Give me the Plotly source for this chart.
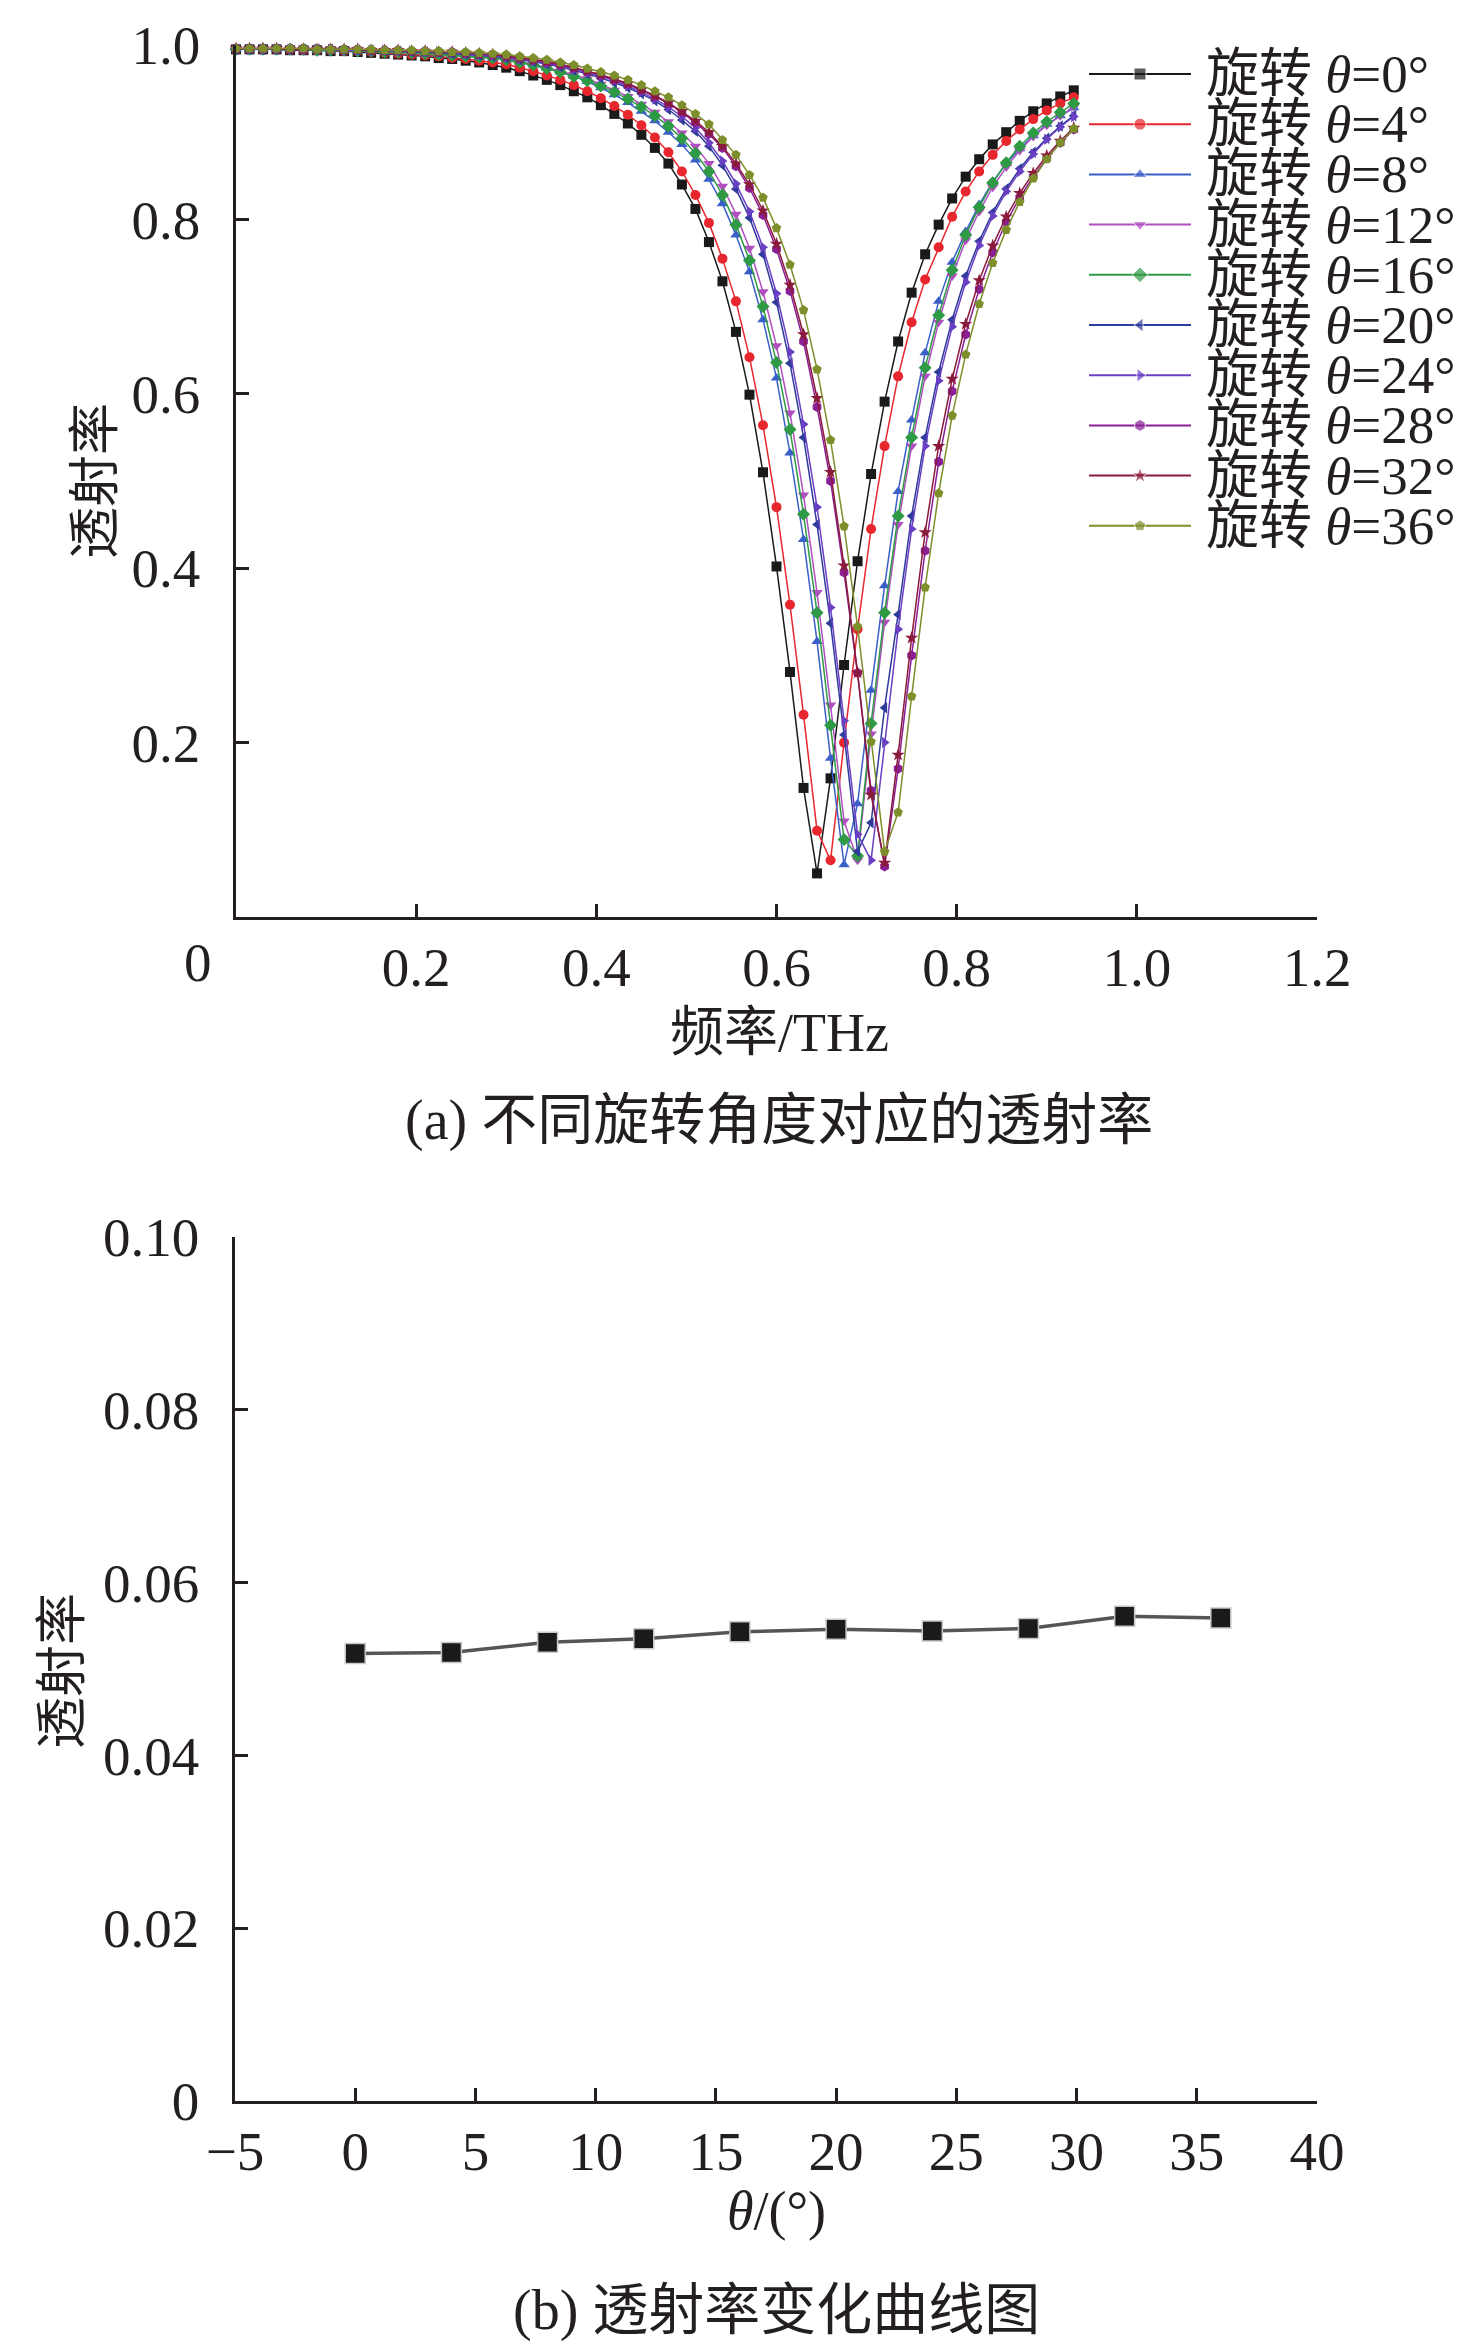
import plotly.graph_objects as go

# ---- data ----
FREQ = [0.000, 0.015, 0.030, 0.045, 0.060, 0.075, 0.090, 0.105, 0.120, 0.135,
        0.150, 0.165, 0.180, 0.195, 0.210, 0.225, 0.240, 0.255, 0.270, 0.285,
        0.300, 0.315, 0.330, 0.345, 0.360, 0.375, 0.390, 0.405, 0.420, 0.435,
        0.450, 0.465, 0.480, 0.495, 0.510, 0.525, 0.540, 0.555, 0.570, 0.585,
        0.600, 0.615, 0.630, 0.645, 0.660, 0.675, 0.690, 0.705, 0.720, 0.735,
        0.750, 0.765, 0.780, 0.795, 0.810, 0.825, 0.840, 0.855, 0.870, 0.885,
        0.900, 0.915, 0.930]

T0 = [0.995, 0.995, 0.995, 0.995, 0.994, 0.994, 0.994, 0.993, 0.993, 0.992,
      0.991, 0.990, 0.989, 0.988, 0.987, 0.985, 0.984, 0.982, 0.980, 0.977,
      0.974, 0.970, 0.965, 0.960, 0.954, 0.947, 0.940, 0.931, 0.921, 0.910,
      0.897, 0.882, 0.864, 0.840, 0.812, 0.774, 0.729, 0.671, 0.599, 0.510,
      0.402, 0.281, 0.148, 0.050, 0.159, 0.289, 0.408, 0.508, 0.591, 0.660,
      0.716, 0.760, 0.794, 0.824, 0.849, 0.869, 0.886, 0.900, 0.913, 0.924,
      0.933, 0.941, 0.948]
T4 = [0.995, 0.995, 0.995, 0.995, 0.995, 0.994, 0.994, 0.994, 0.993, 0.993,
      0.992, 0.991, 0.990, 0.989, 0.988, 0.987, 0.985, 0.984, 0.982, 0.980,
      0.978, 0.974, 0.970, 0.965, 0.960, 0.954, 0.947, 0.939, 0.930, 0.920,
      0.908, 0.894, 0.877, 0.855, 0.828, 0.796, 0.755, 0.706, 0.642, 0.564,
      0.470, 0.358, 0.232, 0.099, 0.065, 0.200, 0.330, 0.445, 0.540, 0.620,
      0.682, 0.731, 0.768, 0.803, 0.832, 0.855, 0.874, 0.890, 0.903, 0.915,
      0.925, 0.933, 0.940]
T8 = [0.995, 0.995, 0.995, 0.995, 0.995, 0.995, 0.994, 0.994, 0.994, 0.993,
      0.993, 0.992, 0.992, 0.991, 0.990, 0.989, 0.988, 0.987, 0.986, 0.985,
      0.983, 0.980, 0.977, 0.973, 0.969, 0.964, 0.958, 0.951, 0.943, 0.934,
      0.924, 0.913, 0.900, 0.886, 0.868, 0.846, 0.818, 0.782, 0.740, 0.685,
      0.618, 0.532, 0.433, 0.316, 0.182, 0.060, 0.130, 0.260, 0.380, 0.488,
      0.570, 0.647, 0.706, 0.751, 0.786, 0.817, 0.843, 0.864, 0.881, 0.896,
      0.909, 0.919, 0.928]
T12 = [0.995, 0.995, 0.995, 0.995, 0.995, 0.995, 0.995, 0.994, 0.994, 0.994,
       0.993, 0.993, 0.992, 0.992, 0.991, 0.990, 0.989, 0.988, 0.987, 0.986,
       0.984, 0.981, 0.978, 0.974, 0.970, 0.966, 0.961, 0.955, 0.948, 0.941,
       0.932, 0.923, 0.912, 0.899, 0.884, 0.864, 0.838, 0.806, 0.767, 0.717,
       0.655, 0.578, 0.484, 0.372, 0.243, 0.110, 0.065, 0.210, 0.338, 0.450,
       0.540, 0.620, 0.682, 0.735, 0.776, 0.809, 0.837, 0.860, 0.879, 0.895,
       0.908, 0.919, 0.929]
T16 = [0.995, 0.995, 0.995, 0.995, 0.995, 0.995, 0.994, 0.994, 0.994, 0.993,
       0.993, 0.992, 0.992, 0.991, 0.990, 0.989, 0.988, 0.987, 0.986, 0.985,
       0.983, 0.980, 0.977, 0.973, 0.969, 0.964, 0.959, 0.953, 0.946, 0.938,
       0.929, 0.919, 0.907, 0.893, 0.876, 0.855, 0.828, 0.794, 0.753, 0.700,
       0.636, 0.559, 0.462, 0.349, 0.220, 0.089, 0.070, 0.222, 0.349, 0.460,
       0.550, 0.630, 0.690, 0.742, 0.782, 0.814, 0.842, 0.865, 0.884, 0.899,
       0.912, 0.923, 0.933]
T20 = [0.995, 0.995, 0.995, 0.995, 0.995, 0.995, 0.995, 0.995, 0.994, 0.994,
       0.994, 0.993, 0.993, 0.992, 0.992, 0.991, 0.990, 0.989, 0.988, 0.987,
       0.985, 0.983, 0.981, 0.978, 0.975, 0.971, 0.967, 0.962, 0.957, 0.951,
       0.944, 0.936, 0.926, 0.914, 0.901, 0.884, 0.862, 0.835, 0.802, 0.760,
       0.705, 0.635, 0.550, 0.450, 0.337, 0.209, 0.075, 0.108, 0.240, 0.347,
       0.460, 0.550, 0.625, 0.685, 0.735, 0.775, 0.808, 0.835, 0.858, 0.877,
       0.893, 0.907, 0.919]
T24 = [0.995, 0.995, 0.995, 0.995, 0.995, 0.995, 0.995, 0.995, 0.994, 0.994,
       0.994, 0.994, 0.993, 0.993, 0.992, 0.992, 0.991, 0.990, 0.989, 0.988,
       0.986, 0.984, 0.982, 0.979, 0.976, 0.972, 0.968, 0.964, 0.959, 0.953,
       0.946, 0.938, 0.929, 0.918, 0.905, 0.888, 0.867, 0.841, 0.809, 0.768,
       0.715, 0.648, 0.565, 0.470, 0.355, 0.225, 0.095, 0.065, 0.200, 0.330,
       0.445, 0.540, 0.615, 0.677, 0.728, 0.770, 0.804, 0.832, 0.855, 0.875,
       0.892, 0.906, 0.918]
T28 = [0.996, 0.996, 0.996, 0.996, 0.995, 0.995, 0.995, 0.995, 0.995, 0.995,
       0.994, 0.994, 0.994, 0.993, 0.993, 0.992, 0.992, 0.991, 0.990, 0.989,
       0.987, 0.985, 0.983, 0.980, 0.977, 0.974, 0.970, 0.965, 0.960, 0.955,
       0.948, 0.941, 0.933, 0.923, 0.911, 0.898, 0.882, 0.861, 0.836, 0.805,
       0.766, 0.718, 0.660, 0.585, 0.500, 0.395, 0.280, 0.145, 0.058, 0.170,
       0.300, 0.420, 0.522, 0.603, 0.668, 0.720, 0.762, 0.797, 0.825, 0.849,
       0.870, 0.888, 0.903]
T32 = [0.996, 0.996, 0.996, 0.996, 0.995, 0.995, 0.995, 0.995, 0.995, 0.995,
       0.994, 0.994, 0.994, 0.993, 0.993, 0.992, 0.992, 0.991, 0.990, 0.989,
       0.987, 0.985, 0.983, 0.981, 0.978, 0.974, 0.970, 0.966, 0.961, 0.956,
       0.949, 0.942, 0.934, 0.924, 0.913, 0.900, 0.884, 0.864, 0.840, 0.810,
       0.772, 0.725, 0.668, 0.595, 0.510, 0.403, 0.280, 0.140, 0.062, 0.186,
       0.320, 0.441, 0.540, 0.617, 0.680, 0.730, 0.770, 0.803, 0.830, 0.853,
       0.873, 0.890, 0.905]
T36 = [0.996, 0.996, 0.996, 0.996, 0.996, 0.996, 0.995, 0.995, 0.995, 0.995,
       0.995, 0.994, 0.994, 0.994, 0.993, 0.993, 0.992, 0.992, 0.991, 0.990,
       0.989, 0.987, 0.985, 0.983, 0.980, 0.977, 0.973, 0.969, 0.965, 0.960,
       0.954, 0.947, 0.940, 0.931, 0.921, 0.909, 0.891, 0.874, 0.851, 0.825,
       0.790, 0.748, 0.696, 0.628, 0.547, 0.448, 0.333, 0.201, 0.075, 0.120,
       0.253, 0.378, 0.486, 0.575, 0.645, 0.703, 0.750, 0.788, 0.820, 0.847,
       0.869, 0.888, 0.904]

ANGLES = [0, 4, 8, 12, 16, 20, 24, 28, 32, 36]
CURVES = [T0, T4, T8, T12, T16, T20, T24, T28, T32, T36]

# panel (b): minimum transmission vs rotation angle
THETA = [0, 4, 8, 12, 16, 20, 24, 28, 32, 36]
TMIN = [0.0518, 0.0519, 0.0531, 0.0535, 0.0543, 0.0546, 0.0544, 0.0547, 0.0561, 0.0559]

COLORS = ['#1a1a1a', '#e8262d', '#3a5fc8', '#b04fc0', '#2e9a44',
          '#2f3b9a', '#6a3fc4', '#8a1f96', '#8a1a3a', '#7d8f2a']
SYMBOLS = ['square', 'circle', 'triangle-up', 'triangle-down', 'diamond',
           'triangle-left', 'triangle-right', 'hexagon', 'star', 'pentagon']

W, H = 1476, 2344
INK = '#231f20'
SERIF = 'Liberation Serif, Noto Sans CJK SC, serif'


def px(x):
    return x / W


def py(y):
    return 1 - y / H


fig = go.Figure()

for ang, ys, col, sym in zip(ANGLES, CURVES, COLORS, SYMBOLS):
    fig.add_trace(go.Scatter(
        x=FREQ, y=ys, mode='lines+markers', name='旋转 θ=%d°' % ang,
        line=dict(color=col, width=1.5),
        marker=dict(symbol=sym, size=10, color=col),
        cliponaxis=False, xaxis='x', yaxis='y', showlegend=False))

fig.add_trace(go.Scatter(
    x=THETA, y=TMIN, mode='lines+markers',
    line=dict(color='#555555', width=3.5),
    marker=dict(symbol='square', size=20, color='#1a1a1a',
                line=dict(color='#c8c8c8', width=1.5)),
    xaxis='x2', yaxis='y2', showlegend=False))

# hand-made legend on a pixel overlay axis
for k, (ang, col, sym) in enumerate(zip(ANGLES, COLORS, SYMBOLS)):
    ry = 66 + 50.2 * k
    fig.add_trace(go.Scatter(
        x=[1081, 1132, 1183], y=[ry, ry, ry], mode='lines+markers',
        line=dict(color=col, width=2),
        marker=dict(symbol=sym, size=[0, 12, 0], color=col),
        xaxis='x3', yaxis='y3', showlegend=False, hoverinfo='skip'))
    fig.add_annotation(
        x=1196, y=ry, xref='x3', yref='y3', xanchor='left', yanchor='middle',
        text='旋转 <i>θ</i>=%d°' % ang, showarrow=False,
        font=dict(family=SERIF, size=53, color=INK))

axis_common = dict(showline=True, linewidth=2.5, linecolor=INK, mirror=False,
                   ticks='inside', ticklen=13, tickwidth=2.5, tickcolor=INK,
                   showgrid=False, zeroline=False, automargin=False,
                   tickfont=dict(family=SERIF, size=55, color=INK))

fig.update_layout(
    width=W, height=H,
    margin=dict(l=0, r=0, t=0, b=0, pad=0, autoexpand=False),
    paper_bgcolor='white', plot_bgcolor='rgba(0,0,0,0)',
    xaxis=dict(axis_common, domain=[px(228), px(1309)], range=[0, 1.2],
               tickvals=[0.2, 0.4, 0.6, 0.8, 1.0, 1.2],
               ticktext=['0.2', '0.4', '0.6', '0.8', '1.0', '1.2'],
               ticklabelstandoff=0, anchor='y'),
    yaxis=dict(axis_common, domain=[py(909), py(37)], range=[0, 1.0],
               tickvals=[0.2, 0.4, 0.6, 0.8, 1.0],
               ticktext=['0.2', '0.4', '0.6', '0.8', '1.0'],
               ticklabelstandoff=22, anchor='x'),
    xaxis2=dict(axis_common, domain=[px(227), px(1309)], range=[-5, 40],
                tickvals=[-5, 0, 5, 10, 15, 20, 25, 30, 35, 40],
                ticklabelstandoff=0, anchor='y2'),
    yaxis2=dict(axis_common, domain=[py(2093), py(1229)], range=[0, 0.1],
                tickvals=[0, 0.02, 0.04, 0.06, 0.08, 0.10],
                ticktext=['0', '0.02', '0.04', '0.06', '0.08', '0.10'],
                ticklabelstandoff=22, anchor='x2'),
    xaxis3=dict(domain=[0, 1], range=[0, W], visible=False, anchor='y3',
                automargin=False),
    yaxis3=dict(domain=[0, 1], range=[H, 0], visible=False, anchor='x3',
                automargin=False),
)

texts = [
    ('0', 190, 955, 0, 55),
    ('透射率', 87, 473, -90, 52),
    ('频率/THz', 771, 1025, 0, 54),
    ('(a) 不同旋转角度对应的透射率', 771, 1112, 0, 56),
    ('透射率', 54, 1663, -90, 52),
    ('<i>θ</i>/(°)', 768, 2203, 0, 54),
    ('(b) 透射率变化曲线图', 768, 2302, 0, 56),
]
for t, x, y, ang, fs in texts:
    fig.add_annotation(x=px(x), y=py(y), xref='paper', yref='paper',
                       xanchor='center', yanchor='middle', text=t,
                       textangle=ang, showarrow=False,
                       font=dict(family=SERIF, size=fs, color=INK))

fig.write_html("out.html")
